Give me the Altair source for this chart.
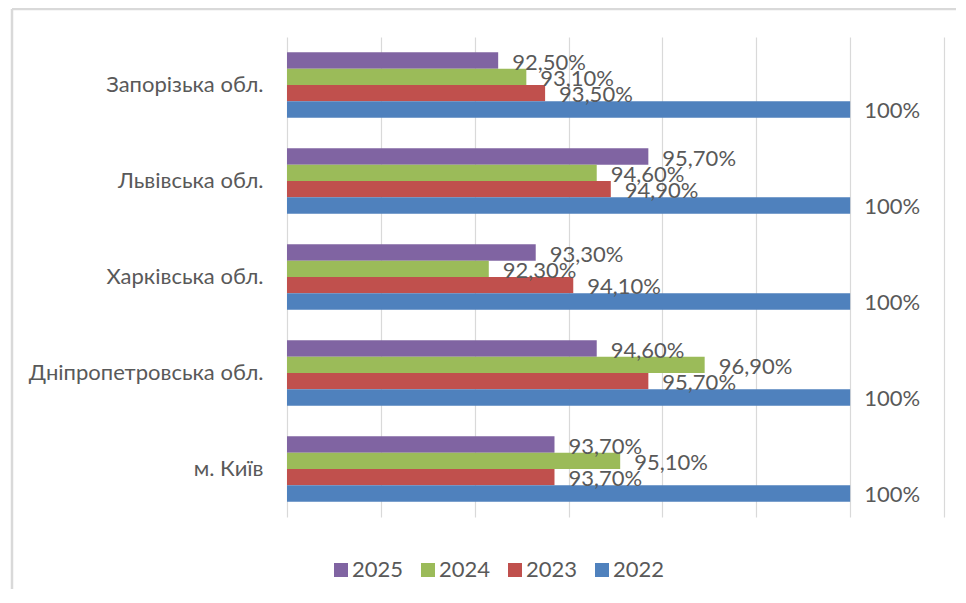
import altair as alt
import pandas as pd

regions = ["Запорізька обл.", "Львівська обл.", "Харківська обл.", "Дніпропетровська обл.", "м. Київ"]
years = ["2025", "2024", "2023", "2022"]
v2025 = [92.5, 95.7, 93.3, 94.6, 93.7]
v2024 = [93.1, 94.6, 92.3, 96.9, 95.1]
v2023 = [93.5, 94.9, 94.1, 95.7, 93.7]
v2022 = [100, 100, 100, 100, 100]
colors = ["#8064A2", "#9BBB59", "#C0504D", "#4F81BD"]
x_ticks = [88, 90, 92, 94, 96, 98, 100, 102]
x_min, x_max = 88, 102

series = {"2025": v2025, "2024": v2024, "2023": v2023, "2022": v2022}
rows = []
for y in years:
    for r, v in zip(regions, series[y]):
        lab = "100%" if v == 100 else (f"{v:.2f}%".replace(".", ","))
        rows.append({"region": r, "year": y, "value": v, "label": lab})
df = pd.DataFrame(rows)

FONT = "Lato"
GRAY = "#595959"

base = alt.Chart(df).encode(
    y=alt.Y("region:N", sort=regions,
            scale=alt.Scale(paddingInner=0.32, paddingOuter=0.16),
            axis=alt.Axis(title=None, domain=False, ticks=False, labelPadding=24,
                          labelFontSize=22, labelColor=GRAY, labelFont=FONT,
                          labelLimit=400, grid=False)),
    yOffset=alt.YOffset("year:N", sort=years, scale=alt.Scale(paddingInner=0, paddingOuter=0)),
)

bars = base.mark_bar().encode(
    x=alt.X("value:Q", scale=alt.Scale(domain=[x_min, x_max], nice=False, zero=False),
            axis=alt.Axis(title=None, labels=False, ticks=False, domain=False,
                          values=x_ticks, gridColor="#D9D9D9", gridWidth=1.2)),
    x2=alt.X2(datum=x_min),
    color=alt.Color("year:N", sort=years,
                    scale=alt.Scale(domain=years, range=colors),
                    legend=alt.Legend(title=None, orient="none", direction="horizontal",
                                      columns=4, legendX=43, legendY=522,
                                      symbolType="square", symbolSize=196,
                                      symbolStrokeWidth=0, labelFontSize=22,
                                      labelColor=GRAY, labelFont=FONT,
                                      labelOffset=0, columnPadding=13, padding=0)),
)

texts = base.mark_text(align="left", baseline="middle", dx=14, dy=2,
                       fontSize=22, font=FONT, color=GRAY).encode(
    x="value:Q",
    text="label:N",
)

frame_df = pd.DataFrame({"a": [0]})
frame_top = alt.Chart(frame_df).mark_rule(color="#D9D9D9", strokeWidth=2.5).encode(
    x=alt.value(-275), x2=alt.value(700), y=alt.value(-28))
frame_left = alt.Chart(frame_df).mark_rule(color="#D9D9D9", strokeWidth=2.5).encode(
    x=alt.value(-275), y=alt.value(-28), y2=alt.value(600))

chart = alt.layer(frame_top, frame_left, bars, texts).properties(
    width=657, height=480,
    autosize=alt.AutoSizeParams(type="none"),
    padding={"left": 279, "top": 29, "right": 12, "bottom": 72},
).configure_view(stroke=None)

chart.save("out.html", embed_options={"renderer": "svg", "actions": False})
